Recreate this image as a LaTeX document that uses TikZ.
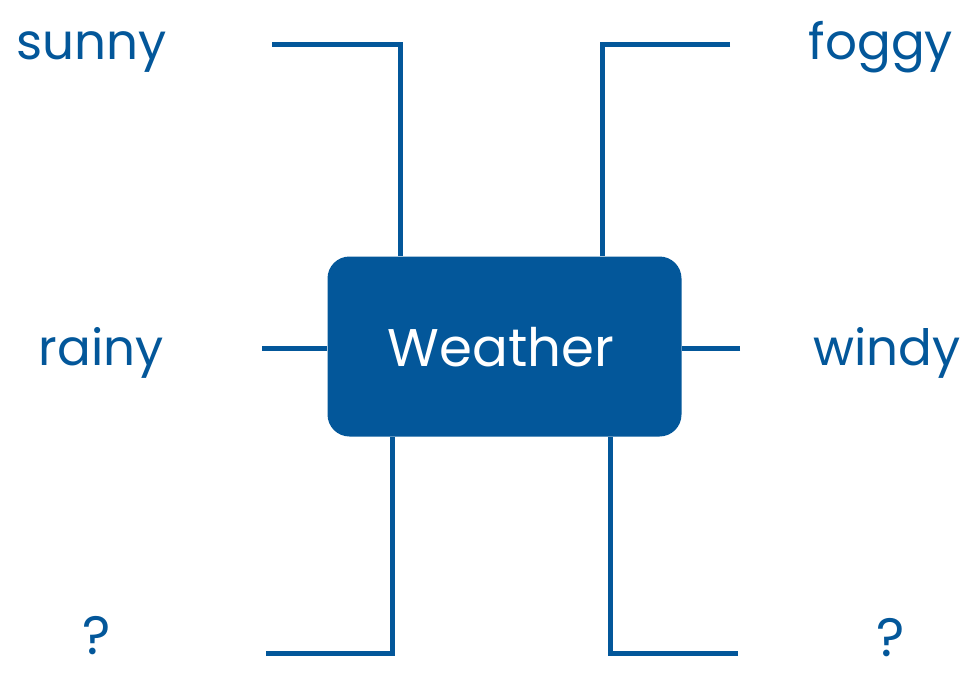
\documentclass[tikz,border=0pt]{standalone}
\usepackage{fontspec}
\setmainfont{Poppins}
\definecolor{wblue}{HTML}{03579A}
\begin{document}
\begin{tikzpicture}[x=1pt,y=-1pt,
  lbl/.style={text=wblue,font=\fontsize{50}{54}\selectfont,anchor=base,inner sep=0pt},
  qm/.style={text=wblue,font=\fontsize{54}{58}\selectfont,anchor=center,inner sep=0pt},
  conn/.style={draw=wblue,line width=5pt}]
\useasboundingbox (0,0) rectangle (976,674);
\node[fill=wblue,rounded corners=22pt,minimum width=354pt,minimum height=180pt,inner sep=0pt] (w) at (504.5,346.5) {};
\node[text=white,font=\fontsize{53}{58}\selectfont,anchor=base,inner sep=0pt] (wt) at (501,366) {Weather};
\node[lbl] (sunny) at (92,60) {sunny};
\node[lbl] (foggy) at (881,60) {foggy};
\node[lbl] (rainy) at (101,365) {rainy};
\node[lbl] (windy) at (887,365) {windy};
\node[qm] (q1) at (97,636) {?};
\node[qm] (q2) at (891,638) {?};
\coordinate (a1) at (272,45);
\coordinate (a2) at (730,45);
\coordinate (a3) at (262,348);
\coordinate (a4) at (740,348);
\coordinate (a5) at (266,653);
\coordinate (a6) at (738,653);
\draw[conn] (a1) -| (w.north west -| 400,0);
\draw[conn] (a2) -| (w.north west -| 602,0);
\draw[conn] (a3) -- (w.west |- a3);
\draw[conn] (a4) -- (w.east |- a4);
\draw[conn] (a5) -| (w.south west -| 392,0);
\draw[conn] (a6) -| (w.south west -| 610,0);
\end{tikzpicture}
\end{document}
